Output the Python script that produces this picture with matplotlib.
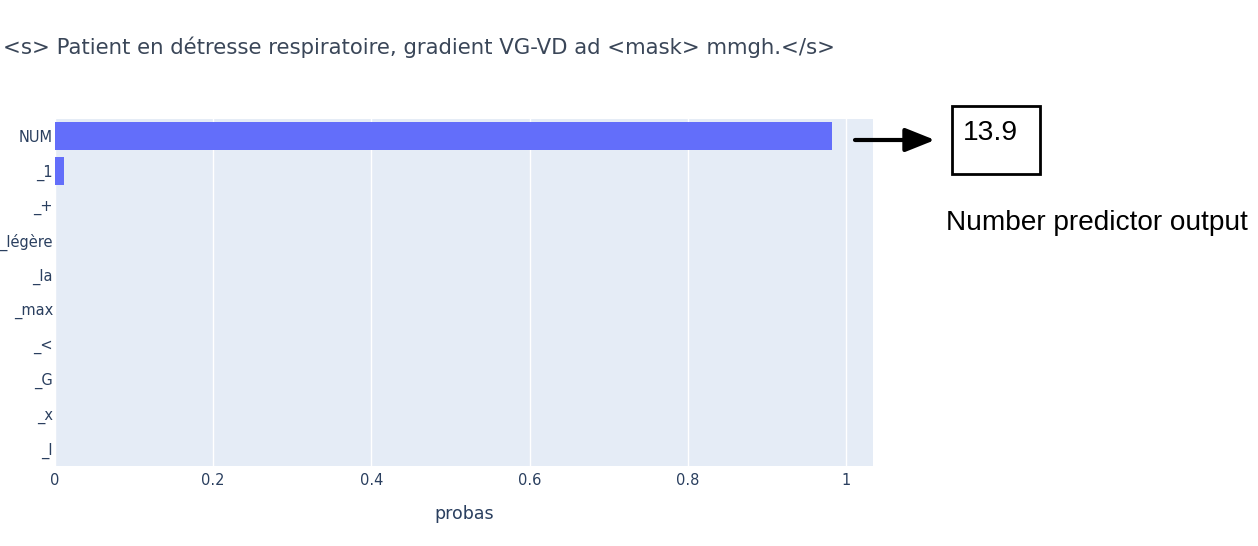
import matplotlib
matplotlib.use("Agg")
import matplotlib.pyplot as plt
from matplotlib.patches import Rectangle, FancyArrowPatch

tokens = ["NUM", "_1", "_+", "_légère", "_la", "_max", "_<", "_G", "_x", "_I"]
probas = [0.982, 0.0115, 0.0003, 0.0002, 0.0002, 0.0002, 0.0001, 0.0001, 0.0001, 0.0001]
title_text = "<s> Patient en détresse respiratoire, gradient VG-VD ad <mask> mmgh.</s>"
predicted_number = "13.9"
predictor_label = "Number predictor output"
x_ticks = [0, 0.2, 0.4, 0.6, 0.8, 1]
x_tick_labels = ["0", "0.2", "0.4", "0.6", "0.8", "1"]

W, H = 1258, 546
fig = plt.figure(figsize=(W / 100, H / 100), dpi=100)
fig.patch.set_facecolor("white")

ax = fig.add_axes([55 / W, 1 - 466 / H, (873 - 55) / W, (466 - 119) / H])
ax.set_facecolor("#e5ecf6")
ypos = list(range(len(tokens)))
ax.barh(ypos, probas, height=0.8, color="#636efa", linewidth=0, zorder=3)
ax.set_ylim(len(tokens) - 0.5, -0.5)
ax.set_xlim(0, 1.034)
ax.set_yticks(ypos)
ax.set_yticklabels(tokens)
ax.set_xticks(x_ticks)
ax.set_xticklabels(x_tick_labels)
ax.grid(axis="x", color="white", linewidth=1, zorder=1)
ax.set_axisbelow(True)
for s in ax.spines.values():
    s.set_visible(False)
ax.tick_params(axis="both", length=0, colors="#2a3f5f", labelcolor="#2a3f5f")
ax.tick_params(axis="y", pad=1.5, labelsize=10.5)
ax.tick_params(axis="x", pad=5, labelsize=10.5)
ax.set_xlabel("probas", fontsize=12.5, color="#2a3f5f", labelpad=12)

fig.text(3 / W, 1 - 47 / H, title_text, fontsize=15.3, color="#3a4658",
         ha="left", va="center", family="DejaVu Sans")

# annotation
arrow = FancyArrowPatch((855 / W, 1 - 140 / H), (935 / W, 1 - 140 / H),
                        transform=fig.transFigure,
                        arrowstyle="-|>,head_length=9,head_width=3.6",
                        mutation_scale=2, linewidth=3, color="black", shrinkA=0, shrinkB=0)
fig.add_artist(arrow)
box = Rectangle((952 / W, 1 - 174 / H), (1040 - 952) / W, (174 - 106) / H,
                transform=fig.transFigure, fill=False, edgecolor="black", linewidth=2)
fig.add_artist(box)
fig.text(963 / W, 1 - 133 / H, predicted_number, fontsize=20.3, family="Liberation Sans",
         ha="left", va="center", color="black")
fig.text(946 / W, 1 - 223 / H, predictor_label, fontsize=20.2, family="Liberation Sans",
         ha="left", va="center", color="black")

fig.savefig("out.png", dpi=100)
